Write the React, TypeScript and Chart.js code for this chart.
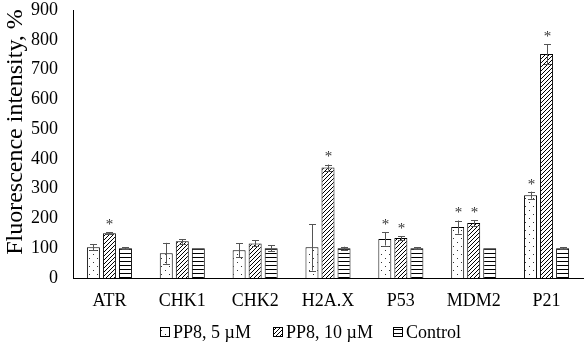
import React, { useEffect, useRef } from "react";
import { Chart, registerables } from "chart.js";

Chart.register(...registerables);

const categories = ["ATR", "CHK1", "CHK2", "H2A.X", "P53", "MDM2", "P21"];
const seriesNames = ["PP8, 5 µM", "PP8, 10 µM", "Control"];
const pp5 = [103, 83, 93, 103, 131, 171, 278];
const pp5Err = [10, 35, 23, 78, 22, 22, 12];
const pp5Sig = [false, false, false, false, true, true, true];
const pp10 = [150, 123, 116, 371, 134, 185, 752];
const pp10Err = [3, 8, 10, 10, 6, 9, 33];
const pp10Sig = [true, false, false, true, true, true, true];
const control = [100, 100, 100, 100, 100, 100, 100];
const controlErr = [3, 0, 10, 5, 3, 0, 4];
const controlSig = [false, false, false, false, false, false, false];
const yTicks = [0, 100, 200, 300, 400, 500, 600, 700, 800, 900];
const yTitle = "Fluorescence intensity, %";

const FONT = "'Liberation Serif', 'Times New Roman', serif";

function makePattern(kind: string): CanvasPattern | string {
  const c = document.createElement("canvas");
  const size = kind === "dots" ? 8 : 4;
  c.width = size;
  c.height = size;
  const g = c.getContext("2d")!;
  g.fillStyle = "#ffffff";
  g.fillRect(0, 0, size, size);
  g.fillStyle = "#000000";
  g.strokeStyle = "#000000";
  if (kind === "dots") {
    g.fillStyle = "#333";
    g.fillRect(1, 2, 1, 1);
    g.fillRect(5, 6, 1, 1);
  } else if (kind === "diag") {
    g.lineWidth = 1;
    g.beginPath();
    g.moveTo(0, size);
    g.lineTo(size, 0);
    g.moveTo(-1, 1);
    g.lineTo(1, -1);
    g.moveTo(size - 1, size + 1);
    g.lineTo(size + 1, size - 1);
    g.stroke();
  } else {
    g.fillRect(0, 1, size, 1);
  }
  const p = g.createPattern(c, "repeat");
  return p || "#fff";
}

const errPlugin = {
  id: "errbars",
  afterDatasetsDraw(chart: any) {
    const ctx = chart.ctx;
    const errs = [pp5Err, pp10Err, controlErr];
    const sigs = [pp5Sig, pp10Sig, controlSig];
    const y = chart.scales.y;
    ctx.save();
    chart.data.datasets.forEach((ds: any, di: number) => {
      const meta = chart.getDatasetMeta(di);
      meta.data.forEach((bar: any, i: number) => {
        const v = ds.data[i];
        const e = errs[di][i];
        const x = Math.round(bar.x);
        const top = y.getPixelForValue(v + e);
        const bot = y.getPixelForValue(v - e);
        if (e > 0) {
          ctx.strokeStyle = "#555";
          ctx.lineWidth = 1;
          ctx.beginPath();
          ctx.moveTo(x + 0.5, top);
          ctx.lineTo(x + 0.5, bot);
          ctx.moveTo(x - 3, Math.round(top) + 0.5);
          ctx.lineTo(x + 4, Math.round(top) + 0.5);
          ctx.moveTo(x - 3, Math.round(bot) + 0.5);
          ctx.lineTo(x + 4, Math.round(bot) + 0.5);
          ctx.stroke();
        }
        if (sigs[di][i]) {
          ctx.fillStyle = "#333";
          ctx.font = `15px ${FONT}`;
          ctx.textAlign = "center";
          ctx.textBaseline = "middle";
          ctx.fillText("*", x + 0.5, top - 7);
        }
      });
    });
    ctx.restore();
  },
};

const legendBoxX = [160, 273, 393];

const titleLegendPlugin = {
  id: "titleLegend",
  afterDraw(chart: any) {
    const ctx = chart.ctx;
    ctx.save();
    ctx.translate(16, 132);
    ctx.rotate(-Math.PI / 2);
    ctx.font = `24px ${FONT}`;
    ctx.fillStyle = "#000";
    ctx.textAlign = "center";
    ctx.textBaseline = "middle";
    ctx.fillText(yTitle, 0, 0);
    ctx.restore();

    ctx.save();
    ctx.font = `18px ${FONT}`;
    ctx.textBaseline = "middle";
    ctx.textAlign = "left";
    const box = 10;
    const cy = 332;
    chart.data.datasets.forEach((d: any, i: number) => {
      const x = legendBoxX[i];
      ctx.fillStyle = d.backgroundColor;
      ctx.fillRect(x, cy - box / 2, box, box);
      ctx.strokeStyle = "#000";
      ctx.lineWidth = 1;
      ctx.strokeRect(x + 0.5, cy - box / 2 + 0.5, box - 1, box - 1);
      ctx.fillStyle = "#000";
      ctx.fillText(d.label, x + box + 3, cy + 1);
    });
    ctx.restore();
  },
};

export default function App() {
  const ref = useRef<HTMLCanvasElement>(null);
  useEffect(() => {
    document.body.style.margin = "0";
    const fills = [makePattern("dots"), makePattern("diag"), makePattern("horiz")];
    const values = [pp5, pp10, control];
    const chart = new Chart(ref.current!, {
      type: "bar",
      data: {
        labels: categories,
        datasets: values.map((d, i) => ({
          label: seriesNames[i],
          data: d,
          backgroundColor: fills[i] as any,
          borderColor: "#000",
          borderWidth: 1,
          categoryPercentage: 0.66,
          barPercentage: 0.81,
        })),
      },
      options: {
        animation: false,
        responsive: false,
        layout: { padding: { top: 10, right: 2, left: 0, bottom: 38 } },
        plugins: {
          legend: { display: false },
          tooltip: { enabled: false },
        },
        scales: {
          x: {
            grid: { display: false, drawTicks: false },
            border: { color: "#000", width: 1 },
            ticks: { font: { family: FONT, size: 18 }, color: "#000", padding: 12 },
            afterFit(s: any) {
              s.height = 30;
              s.paddingTop = 0;
              s.paddingBottom = 0;
            },
          },
          y: {
            min: 0,
            max: 900,
            afterBuildTicks(s: any) {
              s.ticks = yTicks.map((v) => ({ value: v }));
            },
            grid: { display: false, drawTicks: false },
            border: { color: "#000", width: 1 },
            ticks: { font: { family: FONT, size: 18 }, color: "#000", padding: 15 },
            afterFit(s: any) {
              s.width = 73;
              s.paddingTop = 0;
              s.paddingBottom = 0;
            },
          },
        },
      },
      plugins: [errPlugin, titleLegendPlugin],
    });
    return () => chart.destroy();
  }, []);
  return <canvas ref={ref} width={585} height={346} style={{ display: "block" }} />;
}
